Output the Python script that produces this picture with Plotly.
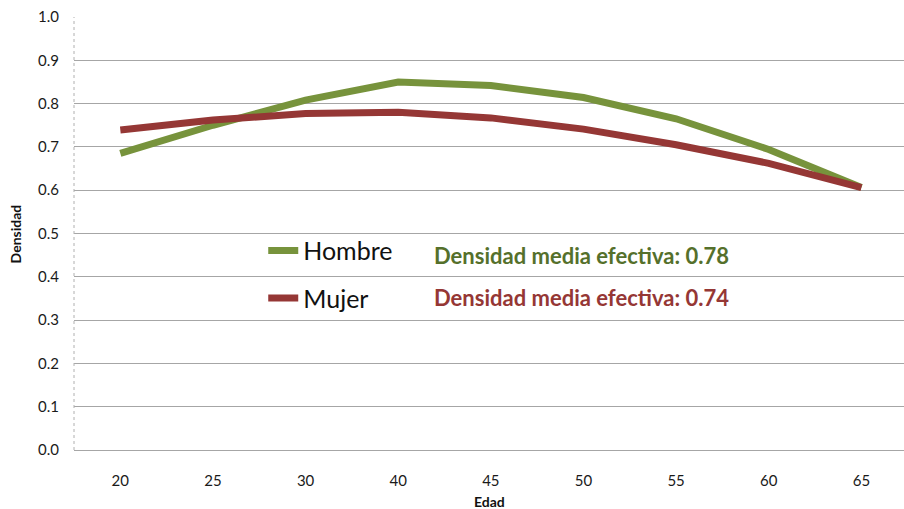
import plotly.graph_objects as go

# Density by age group
edad = ["20", "25", "30", "40", "45", "50", "55", "60", "65"]
hombre = [0.685, 0.750, 0.808, 0.850, 0.842, 0.814, 0.765, 0.694, 0.606]
mujer = [0.739, 0.762, 0.777, 0.780, 0.767, 0.741, 0.705, 0.662, 0.606]

media_hombre = 0.78
media_mujer = 0.74

GREEN = "#77933C"
RED = "#953735"
FONT = "Lato"

fig = go.Figure()

fig.add_trace(go.Scatter(
    x=edad, y=hombre, mode="lines", name="Hombre",
    line=dict(color=GREEN, width=7), legendgroup="h",
))
fig.add_trace(go.Scatter(
    x=edad, y=mujer, mode="lines", name="Mujer",
    line=dict(color=RED, width=7), legendgroup="m",
))

# Mean density notes beside the legend
fig.add_annotation(
    x=0.431, xref="paper", y=0.45, yref="y", xanchor="left", yanchor="middle",
    text=f"<b>Densidad media efectiva: {media_hombre:.2f}</b>",
    showarrow=False, font=dict(family=FONT, size=22, color="#55702B"),
)
fig.add_annotation(
    x=0.431, xref="paper", y=0.353, yref="y", xanchor="left", yanchor="middle",
    text=f"<b>Densidad media efectiva: {media_mujer:.2f}</b>",
    showarrow=False, font=dict(family=FONT, size=22, color=RED),
)

# axis titles
fig.add_annotation(
    x=0.5, xref="paper", y=-0.118, yref="paper", xanchor="center", yanchor="middle",
    text="<b>Edad</b>", showarrow=False, font=dict(family=FONT, size=14, color="#111111"),
)
fig.add_annotation(
    x=-0.07, xref="paper", y=0.5, yref="paper", xanchor="center", yanchor="middle",
    text="<b>Densidad</b>", textangle=-90, showarrow=False,
    font=dict(family=FONT, size=14, color="#111111"),
)

# dashed left border of plot area
fig.add_shape(
    type="line", xref="paper", yref="paper", x0=0, x1=0, y0=0, y1=1,
    line=dict(color="#B0B0B0", width=1, dash="dot"),
)

fig.update_layout(
    width=904, height=509,
    margin=dict(l=74, r=0, t=17, b=59),
    paper_bgcolor="white", plot_bgcolor="white",
    font=dict(family=FONT, size=14, color="#1a1a1a"),
    showlegend=True,
    legend=dict(
        x=0.228, y=0.513, xanchor="left", yanchor="top",
        font=dict(family=FONT, size=25, color="#111111"),
        bgcolor="rgba(0,0,0,0)", tracegroupgap=12,
        traceorder="grouped",
    ),
    xaxis=dict(
        type="category", range=[-0.5, 8.46], automargin=False,
        showgrid=False, zeroline=False, showline=False,
        ticks="", ticklabelstandoff=20,
        tickfont=dict(family=FONT, size=15),
    ),
    yaxis=dict(
        range=[0, 1.0], dtick=0.1, tickformat=".1f", automargin=False,
        showgrid=True, gridcolor="#A6A6A6", gridwidth=1,
        zeroline=True, zerolinecolor="#A6A6A6", zerolinewidth=1,
        showline=False, ticks="", ticklabelstandoff=14,
        tickfont=dict(family=FONT, size=15),
    ),
)

# drop the default 8px body margin so the figure fills the window exactly
fig.write_html(
    "out.html",
    config={"displayModeBar": False},
    post_script="document.body.style.margin='0px';",
)
